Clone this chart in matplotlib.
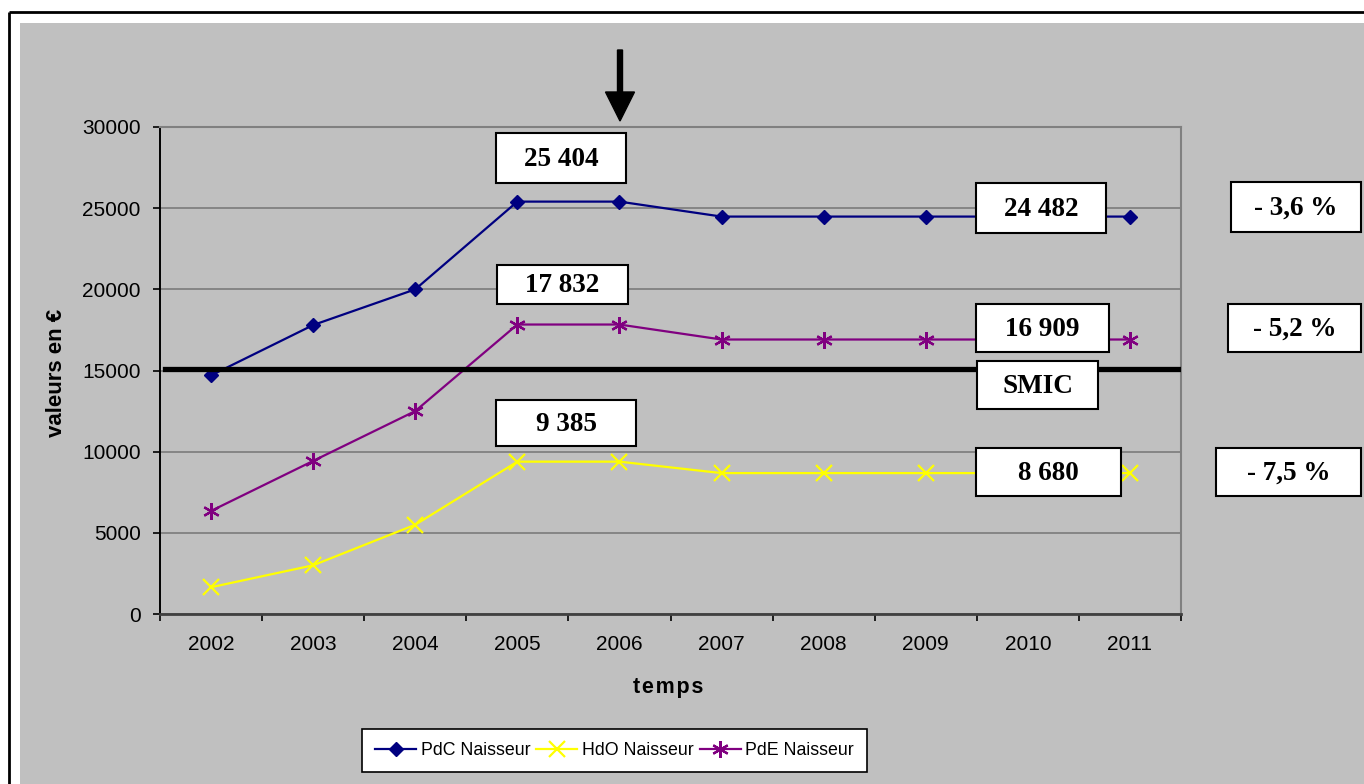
import numpy as np
import matplotlib
matplotlib.use("Agg")
import matplotlib.pyplot as plt
from matplotlib.patches import Rectangle, FancyArrow

# data
years = ['2002', '2003', '2004', '2005', '2006', '2007', '2008', '2009', '2010', '2011']
pdc_naisseur = [14700, 17800, 20000, 25404, 25404, 24482, 24482, 24482, 24482, 24482]
hdo_naisseur = [1650, 3000, 5500, 9385, 9385, 8680, 8680, 8680, 8680, 8680]
pde_naisseur = [6350, 9430, 12500, 17832, 17832, 16909, 16909, 16909, 16909, 16909]
smic = 15100
peak_idx = 4    # 2006, before the fall
last_idx = 9    # 2011

W, H = 1364, 784
GRAY = '#c0c0c0'
sans = 'Liberation Sans'
serif = 'Liberation Serif'

fig = plt.figure(figsize=(W / 100, H / 100), dpi=100, facecolor='white')

# background layer in pixel coords
bg = fig.add_axes([0, 0, 1, 1], zorder=0)
bg.set_xlim(0, W)
bg.set_ylim(H, 0)
bg.axis('off')
bg.add_patch(Rectangle((20, 23), W, H, facecolor=GRAY, edgecolor='none'))
bg.plot([9, 9], [H, 12], color='black', lw=2, solid_capstyle='butt')
bg.plot([9, W], [12, 12], color='black', lw=2, solid_capstyle='butt')

# main chart
ax = fig.add_axes([160 / W, 1 - 614 / H, (1181 - 160) / W, (614 - 127) / H], zorder=1)
ax.set_facecolor('none')
x = np.arange(len(years))
ax.plot(x, pdc_naisseur, color='#000080', lw=1.6, marker='D', ms=7.5, label='PdC Naisseur')
ax.plot(x, hdo_naisseur, color='#ffff00', lw=1.6, marker='x', ms=11, mew=1.6, label='HdO Naisseur')
ax.plot(x, pde_naisseur, color='#800080', lw=1.6, marker=(6, 2, 0), ms=12, mew=1.6, label='PdE Naisseur')
ax.axhline(smic, xmin=0.005, xmax=1.0, color='black', lw=3.8, zorder=3)

ax.set_xlim(-0.5, len(years) - 0.5)
ax.set_ylim(0, 30000)
ax.set_yticks(np.arange(0, 30001, 5000))
ax.set_yticklabels([str(v) for v in range(0, 30001, 5000)], fontfamily=sans, fontsize=15)
ax.set_xticks(x)
ax.set_xticklabels(years, fontfamily=sans, fontsize=15)
ax.set_xticks(np.arange(-0.5, len(years)), minor=True)
ax.tick_params(axis='x', which='major', length=0, pad=15)
ax.tick_params(axis='x', which='minor', length=5, width=1.2, color='black', direction='out')
ax.tick_params(axis='y', length=5, width=1.2, direction='out', pad=9)
ax.grid(axis='y', color='#808080', lw=1.3)
ax.set_axisbelow(True)
ax.spines['left'].set_color('black')
ax.spines['left'].set_linewidth(1.4)
ax.spines['bottom'].set_color('#404040')
ax.spines['bottom'].set_linewidth(2)
for s in ['top', 'right']:
    ax.spines[s].set_color('#808080')
    ax.spines[s].set_linewidth(1.5)

fig.text(56 / W, 1 - 373 / H, 'valeurs en €', rotation=90, ha='center', va='center',
         fontfamily=sans, fontsize=16, fontweight='bold')
fig.text(668 / W, 1 - 688 / H, 't e m p s'.replace(' ', '\u200a'), ha='center', va='center',
         fontfamily=sans, fontsize=15.5, fontweight='bold')

# overlay with text boxes and arrow, pixel coords
ov = fig.add_axes([0, 0, 1, 1], zorder=2)
ov.set_xlim(0, W)
ov.set_ylim(H, 0)
ov.axis('off')


def fmt(v):
    return f"{v:,}".replace(",", " ")


def pct(a, b):
    return "- " + f"{abs((b - a) / a * 100):.1f}".replace(".", ",") + " %"


def box(x0, y0, x1, y1, txt):
    ov.add_patch(Rectangle((x0, y0), x1 - x0, y1 - y0, facecolor='white',
                           edgecolor='black', lw=1.5))
    ov.text((x0 + x1) / 2, (y0 + y1) / 2 + 1, txt, ha='center', va='center',
            fontfamily=serif, fontweight='bold', fontsize=19.5)


box(496, 133, 626, 183, fmt(pdc_naisseur[peak_idx]))
box(497, 265, 628, 304, fmt(pde_naisseur[peak_idx]))
box(496, 400, 636, 446, fmt(hdo_naisseur[peak_idx]))
box(976, 183, 1106, 233, fmt(pdc_naisseur[last_idx]))
box(976, 304, 1109, 352, fmt(pde_naisseur[last_idx]))
box(977, 361, 1098, 409, 'SMIC')
box(976, 448, 1121, 496, fmt(hdo_naisseur[last_idx]))
box(1231, 182, 1361, 232, pct(pdc_naisseur[peak_idx], pdc_naisseur[last_idx]))
box(1228, 304, 1361, 352, pct(pde_naisseur[peak_idx], pde_naisseur[last_idx]))
box(1216, 448, 1361, 496, pct(hdo_naisseur[peak_idx], hdo_naisseur[last_idx]))

ov.add_patch(FancyArrow(620, 50, 0, 71, width=5, head_width=29, head_length=29,
                        length_includes_head=True, color='black'))

handles, labels = ax.get_legend_handles_labels()
leg = fig.legend(handles, labels, loc='center', bbox_to_anchor=(614.5 / W, 1 - 750.5 / H),
                 ncol=3, frameon=True, fancybox=False, edgecolor='black', framealpha=1,
                 prop={'family': sans, 'size': 12.8}, handlelength=2.3,
                 handletextpad=0.25, columnspacing=0.35, borderpad=0.75, borderaxespad=0)
leg.get_frame().set_linewidth(1.2)

fig.savefig('out.png', dpi=100, facecolor='white')
